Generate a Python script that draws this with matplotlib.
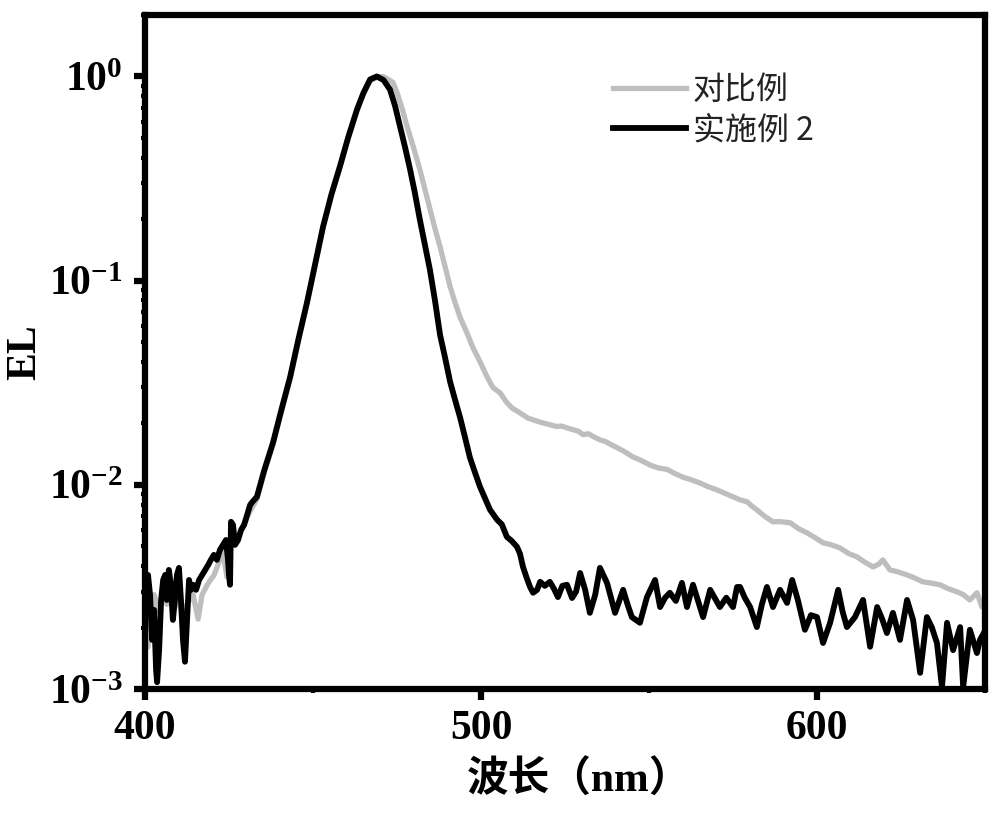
import numpy as np
import matplotlib
matplotlib.use("Agg")
import matplotlib.pyplot as plt
from matplotlib.ticker import LogLocator, NullFormatter, MultipleLocator

plt.rcParams['font.family'] = ['Liberation Serif', 'Noto Sans CJK SC', 'DejaVu Sans']
plt.rcParams['font.weight'] = 'bold'
plt.rcParams['axes.unicode_minus'] = False
plt.rcParams['mathtext.fontset'] = 'custom'
plt.rcParams['mathtext.rm'] = 'Liberation Serif:bold'
plt.rcParams['mathtext.it'] = 'Liberation Serif:bold'
plt.rcParams['mathtext.bf'] = 'Liberation Serif:bold'

# 对比例 (grey)
ref_nm = [400.2, 400.8, 401.5, 402.7, 404.2, 405.4, 406.5, 408.0, 409.5, 411.0,
          412.5, 414.3, 415.8, 417.0, 418.8, 420.5, 422.3, 422.9, 424.4, 425.5,
          427.0, 429.0, 431.0, 433.3, 435.5, 438.1, 440.5, 443.2, 445.7, 448.2,
          450.6, 453.0, 455.5, 458.0, 460.5, 463.1, 465.0, 467.0, 469.0, 470.8,
          472.3, 473.8, 475.0, 476.5, 478.0, 479.9, 481.8, 483.3, 484.8, 486.3,
          487.8, 489.3, 490.8, 492.3, 493.8, 495.8, 497.6, 499.7, 501.8, 503.5,
          505.7, 507.5, 509.2, 510.7, 512.5, 514.0, 515.5, 517.5, 519.0, 520.5,
          522.5, 524.0, 525.6, 527.5, 529.0, 530.4, 532.0, 533.5, 535.4, 537.0,
          538.8, 540.5, 542.5, 545.2, 547.5, 550.3, 552.7, 555.4, 557.5, 560.1,
          562.5, 565.2, 567.5, 570.2, 572.5, 575.0, 577.1, 579.2, 580.5, 582.1,
          584.5, 586.9, 589.0, 592.0, 594.5, 597.0, 599.5, 601.8, 604.0, 606.8,
          609.5, 611.9, 614.0, 616.7, 618.5, 619.6, 621.7, 624.0, 626.8, 629.0,
          631.5, 634.0, 636.6, 639.0, 641.7, 643.5, 645.5, 647.6, 649.1, 649.9]
ref_el = [2.6e-3, 1.6e-3, 2.2e-3, 2.9e-3, 2.4e-3, 3.0e-3, 2.6e-3, 3.1e-3, 2.8e-3, 2.4e-3,
          2.6e-3, 2.9e-3, 2.2e-3, 2.9e-3, 3.3e-3, 3.6e-3, 4.3e-3, 4.97e-3, 3.54e-3, 5.2e-3,
          5.4e-3, 6.1e-3, 7.3e-3, 8.5e-3, 0.0115, 0.0158, 0.0225, 0.0330, 0.051, 0.077,
          0.118, 0.182, 0.262, 0.358, 0.50, 0.68, 0.82, 0.95, 0.99, 1.0,
          0.97, 0.935, 0.835, 0.70, 0.569, 0.45, 0.350, 0.28, 0.223, 0.18,
          0.147, 0.117, 0.0935, 0.078, 0.0659, 0.0556, 0.047, 0.0401, 0.0338, 0.030,
          0.0282, 0.0255, 0.0238, 0.0230, 0.0220, 0.0212, 0.0208, 0.0203, 0.0200, 0.0197,
          0.0193, 0.0194, 0.0190, 0.0186, 0.0183, 0.0176, 0.0178, 0.0172, 0.0166, 0.0163,
          0.0157, 0.0152, 0.0146, 0.0137, 0.0132, 0.0125, 0.0121, 0.0119, 0.0114, 0.0109,
          0.0106, 0.0102, 0.0098, 9.45e-3, 9.1e-3, 8.73e-3, 8.44e-3, 8.26e-3, 7.9e-3, 7.54e-3,
          7.0e-3, 6.59e-3, 6.6e-3, 6.52e-3, 6.1e-3, 5.82e-3, 5.5e-3, 5.2e-3, 5.1e-3, 4.91e-3,
          4.6e-3, 4.44e-3, 4.2e-3, 3.96e-3, 4.1e-3, 4.29e-3, 3.83e-3, 3.75e-3, 3.62e-3, 3.5e-3,
          3.35e-3, 3.3e-3, 3.24e-3, 3.1e-3, 2.99e-3, 2.9e-3, 2.73e-3, 2.96e-3, 2.52e-3, 2.8e-3]

# 实施例 2 (black)
ex_nm = [400.3, 400.9, 401.5, 402.1, 402.7, 403.3, 403.6, 404.2, 404.8, 405.4,
         406.0, 406.5, 407.1, 407.7, 408.3, 408.9, 409.5, 410.1, 410.7, 411.3,
         411.9, 412.5, 413.1, 413.7, 414.3, 415.2, 416.1, 417.0, 417.9, 418.8,
         419.6, 420.5, 421.4, 422.3, 423.2, 424.1, 424.7, 425.0, 425.3, 425.6,
         426.2, 426.8, 427.7, 428.6, 429.5, 430.4, 431.3, 432.1, 433.3, 435.5,
         438.1, 440.5, 443.2, 445.7, 448.2, 450.6, 453.0, 455.5, 458.0, 460.5,
         463.1, 465.0, 467.0, 469.0, 471.0, 472.9, 474.4, 475.9, 477.4, 478.9,
         480.3, 481.8, 483.3, 484.8, 486.3, 487.8, 489.3, 490.8, 492.3, 493.8,
         495.2, 496.7, 498.2, 499.7, 501.2, 502.7, 504.8, 506.2, 507.7, 509.2,
         510.7, 511.6, 512.5, 513.6, 514.6, 515.5, 516.7, 517.6, 519.0, 520.5,
         521.7, 522.9, 524.2, 525.6, 527.1, 528.3, 529.5, 531.0, 532.4, 534.0,
         535.4, 537.5, 538.7, 539.9, 542.3, 543.6, 544.9, 547.3, 549.4, 551.8,
         553.3, 554.8, 556.2, 558.0, 559.8, 561.3, 563.1, 564.6, 566.1, 568.2,
         571.1, 573.0, 575.0, 576.2, 577.1, 578.5, 580.1, 582.1, 583.6, 585.1,
         586.9, 589.0, 591.1, 592.6, 594.3, 596.4, 598.2, 600.0, 601.8, 603.9,
         606.3, 607.6, 608.9, 611.3, 613.7, 615.8, 617.9, 619.4, 620.8, 622.6,
         624.7, 626.8, 628.6, 630.7, 632.7, 634.2, 635.7, 637.2, 638.7, 640.5,
         642.6, 643.5, 645.5, 647.6, 648.5, 649.8]
ex_el = [3.24e-3, 3.62e-3, 2.89e-3, 1.74e-3, 2.44e-3, 1.24e-3, 1.08e-3, 1.55e-3, 2.73e-3, 3.42e-3,
         3.62e-3, 2.73e-3, 3.83e-3, 3.24e-3, 2.18e-3, 2.73e-3, 3.62e-3, 3.92e-3, 2.73e-3, 1.74e-3,
         1.36e-3, 2.18e-3, 3.42e-3, 3.06e-3, 3.24e-3, 3.06e-3, 3.42e-3, 3.62e-3, 3.83e-3, 4.05e-3,
         4.29e-3, 4.54e-3, 4.29e-3, 4.80e-3, 5.08e-3, 5.37e-3, 4.29e-3, 3.62e-3, 3.24e-3, 6.59e-3,
         6.37e-3, 5.08e-3, 5.37e-3, 6.02e-3, 6.37e-3, 7.13e-3, 7.98e-3, 8.3e-3, 8.73e-3, 0.0118,
         0.0161, 0.0230, 0.0338, 0.0520, 0.078, 0.120, 0.184, 0.265, 0.362, 0.505,
         0.689, 0.83, 0.967, 1.0, 0.96, 0.864, 0.72, 0.569, 0.45, 0.350,
         0.27, 0.199, 0.150, 0.113, 0.080, 0.0544, 0.042, 0.0320, 0.026, 0.0213,
         0.0172, 0.0136, 0.0115, 9.78e-3, 8.6e-3, 7.54e-3, 6.74e-3, 6.4e-3, 5.56e-3, 5.3e-3,
         4.97e-3, 4.6e-3, 3.96e-3, 3.5e-3, 3.16e-3, 2.96e-3, 3.06e-3, 3.35e-3, 3.2e-3, 3.35e-3,
         3.1e-3, 2.82e-3, 3.2e-3, 3.24e-3, 2.79e-3, 3.0e-3, 3.70e-3, 3.06e-3, 2.36e-3, 2.9e-3,
         3.92e-3, 3.31e-3, 2.8e-3, 2.36e-3, 3.06e-3, 2.6e-3, 2.25e-3, 2.11e-3, 2.82e-3, 3.42e-3,
         2.52e-3, 2.8e-3, 2.96e-3, 2.7e-3, 3.31e-3, 2.52e-3, 3.24e-3, 2.7e-3, 2.25e-3, 3.06e-3,
         2.52e-3, 2.8e-3, 2.52e-3, 3.16e-3, 3.16e-3, 2.8e-3, 2.52e-3, 2.01e-3, 2.6e-3, 3.16e-3,
         2.52e-3, 3.06e-3, 2.64e-3, 3.42e-3, 2.73e-3, 1.95e-3, 2.3e-3, 2.25e-3, 1.68e-3, 2.11e-3,
         3.06e-3, 2.4e-3, 2.01e-3, 2.25e-3, 2.73e-3, 1.61e-3, 2.52e-3, 2.2e-3, 1.88e-3, 2.36e-3,
         1.74e-3, 2.73e-3, 2.18e-3, 1.20e-3, 2.25e-3, 2.0e-3, 1.68e-3, 1.02e-3, 2.11e-3, 1.55e-3,
         2.01e-3, 1.02e-3, 1.95e-3, 1.50e-3, 1.74e-3, 1.9e-3]

fig = plt.figure(figsize=(10, 8.15), dpi=100)
ax = fig.add_axes([0.145, 0.1546, 0.84, 0.827])

ax.plot(ref_nm, ref_el, color='#bebebe', lw=3.8, label='对比例')
ax.plot(ex_nm, ex_el, color='black', lw=4.2, label='实施例 2')

ax.set_yscale('log')
ax.set_xlim(400, 650)
ax.set_ylim(1e-3, 2)
ax.xaxis.set_major_locator(MultipleLocator(100))
ax.xaxis.set_minor_locator(MultipleLocator(50))
ax.yaxis.set_major_locator(LogLocator(base=10, numticks=10))
ax.yaxis.set_minor_locator(LogLocator(base=10, subs=np.arange(2, 10), numticks=20))
ax.yaxis.set_minor_formatter(NullFormatter())

for s in ax.spines.values():
    s.set_linewidth(4.5)
ax.tick_params(which='major', direction='out', length=8, width=4.5, labelsize=30)
ax.tick_params(which='minor', direction='out', length=3, width=3)
ax.tick_params(axis='x', which='major', pad=7)
ax.tick_params(axis='y', which='major', pad=8)

ax.set_ylabel('EL', fontsize=30, fontweight='bold')
ax.yaxis.set_label_coords(-0.12, 0.5)
ax.set_xlabel('波长（nm）', fontsize=30, fontweight='bold')
ax.xaxis.set_label_coords(0.517, -0.106)

leg = ax.legend(loc='upper left', bbox_to_anchor=(0.557, 0.912), frameon=False,
                prop={'family': ['Noto Sans CJK SC'], 'weight': 'normal', 'size': 23},
                handlelength=2.3, handletextpad=0.2, labelspacing=0.25,
                borderpad=0, borderaxespad=0)
for t in leg.get_texts():
    t.set_color('#222222')

fig.savefig('out.png', dpi=100)
